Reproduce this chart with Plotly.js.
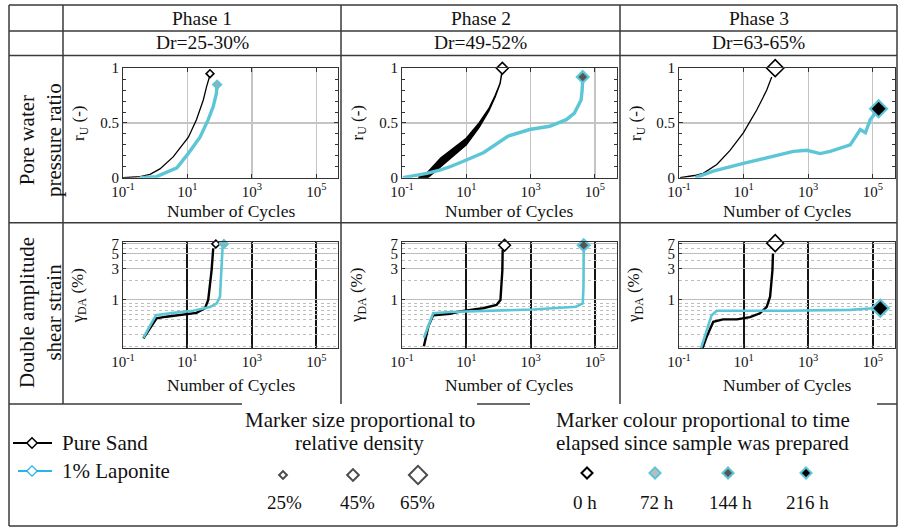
<!DOCTYPE html>
<html><head><meta charset="utf-8">
<script src="https://cdn.plot.ly/plotly-3.0.1.min.js"></script>
<style>html,body{margin:0;padding:0;background:#fff}</style>
</head><body>
<div id="chart" style="width:900px;height:527px"></div>
<script>
// ---------------- DATA ----------------
const phaseTitles = ['Phase 1', 'Phase 2', 'Phase 3'];
const densityTitles = ['Dr=25-30%', 'Dr=49-52%', 'Dr=63-65%'];
const rowTitles = ['Pore water<br>pressure ratio', 'Double amplitude<br>shear strain'];
const xTickVals = [0.1, 10, 1000, 100000];
const xTickText = ['10<sup>-1</sup>', '10<sup>1</sup>', '10<sup>3</sup>', '10<sup>5</sup>'];
const ruTickVals = [0, 0.5, 1];
const ruTickText = ['0', '0.5', '1'];
const gamTickVals = [1, 3, 5, 7];
const gamTickText = ['1', '3', '5', '7'];
const gamMinorVals = [0.2, 0.3, 0.4, 0.5, 0.6, 0.7, 0.8, 0.9, 2, 4, 6];

// Pore water pressure ratio r_U vs number of cycles
const ph1RuSandN = [0.1, 0.34, 0.69, 1.4, 3.6, 10.7, 19, 31, 39, 48];
const ph1RuSand  = [0, 0.01, 0.03, 0.08, 0.19, 0.37, 0.53, 0.71, 0.83, 0.92];
const ph1RuLapN  = [0.34, 1.1, 4.7, 10.5, 24.5, 44, 63, 79, 83];
const ph1RuLap   = [0, 0.01, 0.09, 0.22, 0.37, 0.53, 0.65, 0.77, 0.85];

const ph2RuSandN  = [0.32, 0.63, 1.6, 4.0, 10, 25, 50, 79, 112, 126];
const ph2RuSandHi = [0.0, 0.05, 0.18, 0.27, 0.36, 0.50, 0.63, 0.75, 0.86, 0.95];
const ph2RuSandLo = [0.0, 0.0, 0.10, 0.20, 0.30, 0.46, 0.61, 0.74, 0.86, 0.95];
const ph2RuLapN   = [0.107, 0.59, 1.5, 3.1, 8.9, 35, 200, 930, 3900, 12900, 22900, 37000, 40000, 41700];
const ph2RuLap    = [0, 0.04, 0.07, 0.10, 0.155, 0.23, 0.38, 0.44, 0.47, 0.53, 0.59, 0.71, 0.80, 0.90];

const ph3RuSandN = [0.107, 0.3, 0.56, 1.48, 3.8, 9.8, 25.7, 52, 74];
const ph3RuSand  = [0, 0.02, 0.04, 0.12, 0.25, 0.41, 0.62, 0.80, 0.92];
const ph3RuLapN  = [0.32, 1.15, 9.8, 66, 347, 912, 2340, 4790, 20000, 40700, 58900, 83000, 120000];
const ph3RuLap   = [0, 0.06, 0.13, 0.19, 0.24, 0.25, 0.22, 0.24, 0.30, 0.44, 0.41, 0.53, 0.59];

const ruEndSandN = [50, 132, 95];
const ruEndSand  = [0.95, 1.0, 1.0];
const ruEndLapN  = [83, 41700, 151000];
const ruEndLap   = [0.85, 0.92, 0.63];

// Double amplitude shear strain gamma_DA (%) vs number of cycles
const ph1GamSandN = [0.43, 1.1, 2.2, 9.3, 19, 35, 44, 56, 63];
const ph1GamSand  = [0.264, 0.53, 0.56, 0.61, 0.64, 0.75, 1.0, 2.8, 6.0];
const ph1GamLapN  = [0.43, 1.05, 3.6, 15, 50, 81, 102, 115, 123];
const ph1GamLap   = [0.27, 0.59, 0.64, 0.69, 0.78, 0.89, 1.12, 2.8, 6.4];

const ph2GamSandN = [0.48, 0.66, 0.93, 3.1, 6.3, 33, 87, 115, 132, 135];
const ph2GamSand  = [0.2, 0.4, 0.59, 0.62, 0.67, 0.75, 0.84, 1.0, 2.8, 5.7];
const ph2GamLapN  = [0.48, 0.93, 3.1, 33, 1170, 25700, 41700, 44000, 44700];
const ph2GamLap   = [0.27, 0.63, 0.66, 0.69, 0.72, 0.79, 0.89, 1.59, 5.7];

const ph3GamSandN = [0.5, 0.72, 1.15, 2.3, 6.2, 15.8, 32, 52, 66, 78, 81];
const ph3GamSand  = [0.17, 0.28, 0.47, 0.51, 0.51, 0.55, 0.63, 0.79, 1.12, 2.8, 5.0];
const ph3GamLapN  = [0.45, 1.02, 1.48, 170, 20000, 105000];
const ph3GamLap   = [0.17, 0.59, 0.69, 0.69, 0.71, 0.75];

const gamEndSandN = [76, 155, 95];
const gamEndSand  = [7.0, 6.7, 7.2];
const gamEndLapN  = [135, 44700, 170000];
const gamEndLap   = [7.0, 6.7, 0.75];

// Legend content
const seriesNames = ['Pure Sand', '1% Laponite'];
const densityLabels = ['25%', '45%', '65%'];
const timeLabels = ['0 h', '72 h', '144 h', '216 h'];

// ---------------- STYLE ----------------
const serif = 'Liberation Serif, Times New Roman, Times, serif';
const cyan = '#5cc6d6';
const legendBlue = '#2ab3e6';
const frame = '#333';
const lapFill = ['#a8a8a8', '#555555', '#000000'];
const markerSize = [6, 9, 13];
const timeFill = ['#ffffff', '#bdbdbd', '#555555', '#000000'];
const timeLine = ['#000000', cyan, cyan, cyan];

const W = 900, H = 527;
const xDom = [[123/W, 338/W], [402/W, 616.5/W], [679/W, 894.5/W]];
const topDom = [1 - 177.7/H, 1 - 68.2/H];
const botDom = [1 - 348/H, 1 - 241.7/H];

function xAx(dom, anchor, bottom) {
  return {
    type: 'log', range: [-1, 5.67], domain: dom, anchor: anchor,
    tickmode: 'array', tickvals: xTickVals, ticktext: xTickText,
    showgrid: false, zeroline: false,
    minor: {tickmode: 'array', tickvals: [10, 1000, 100000], showgrid: true,
            gridcolor: bottom ? '#151515' : '#c4c4c4', gridwidth: bottom ? 2 : 1.3, ticks: ''},
    ticks: 'inside', ticklen: 4, tickcolor: frame, tickwidth: 1,
    showline: true, linecolor: frame, linewidth: 1, mirror: 'allticks',
    tickfont: {family: serif, size: 15, color: '#111'}, fixedrange: true
  };
}
function yTop(anchor) {
  return {
    range: [0, 1], domain: topDom, anchor: anchor,
    tickmode: 'array', tickvals: ruTickVals, ticktext: ruTickText,
    showgrid: true, gridcolor: '#c4c4c4', gridwidth: 1.3, zeroline: false,
    minor: {tickmode: 'linear', tick0: 0, dtick: 0.1, ticks: 'inside', ticklen: 3, tickcolor: frame, showgrid: false},
    ticks: 'inside', ticklen: 4, tickcolor: frame,
    showline: true, linecolor: frame, linewidth: 1, mirror: 'allticks',
    tickfont: {family: serif, size: 15, color: '#111'}, fixedrange: true
  };
}
function yBot(anchor) {
  return {
    type: 'log', range: [-0.724, 0.879], domain: botDom, anchor: anchor,
    tickmode: 'array', tickvals: gamTickVals, ticktext: gamTickText,
    showgrid: true, gridcolor: '#bdbdbd', gridwidth: 1, zeroline: false,
    minor: {tickmode: 'array', tickvals: gamMinorVals, showgrid: true, griddash: 'dot', gridcolor: '#bdbdbd', gridwidth: 1, ticks: ''},
    ticks: 'inside', ticklen: 3, tickcolor: frame,
    showline: true, linecolor: frame, linewidth: 1, mirror: true,
    tickfont: {family: serif, size: 15, color: '#111'}, fixedrange: true
  };
}

const ruSand = [[ph1RuSandN, ph1RuSand], null, [ph3RuSandN, ph3RuSand]];
const ruLap = [[ph1RuLapN, ph1RuLap], [ph2RuLapN, ph2RuLap], [ph3RuLapN, ph3RuLap]];
const gamSand = [[ph1GamSandN, ph1GamSand], [ph2GamSandN, ph2GamSand], [ph3GamSandN, ph3GamSand]];
const gamLap = [[ph1GamLapN, ph1GamLap], [ph2GamLapN, ph2GamLap], [ph3GamLapN, ph3GamLap]];

const data = [];
for (let i = 0; i < 3; i++) {
  const xt = i === 0 ? 'x' : 'x' + (i + 1), yt = i === 0 ? 'y' : 'y' + (i + 1);
  const xb = 'x' + (i + 4), yb = 'y' + (i + 4);
  if (ruSand[i]) {
    data.push({type: 'scatter', mode: 'lines', x: ruSand[i][0], y: ruSand[i][1], xaxis: xt, yaxis: yt,
      line: {color: '#000', width: 1.3}, showlegend: false, hoverinfo: 'skip'});
  } else {
    const bx = ph2RuSandN.concat(ph2RuSandN.slice().reverse());
    const by = ph2RuSandHi.concat(ph2RuSandLo.slice().reverse());
    data.push({type: 'scatter', mode: 'lines', x: bx, y: by, fill: 'toself', fillcolor: '#000', xaxis: xt, yaxis: yt,
      line: {color: '#000', width: 1.5}, showlegend: false, hoverinfo: 'skip'});
  }
  data.push({type: 'scatter', mode: 'lines', x: ruLap[i][0], y: ruLap[i][1], xaxis: xt, yaxis: yt,
    line: {color: cyan, width: 3.4}, showlegend: false, hoverinfo: 'skip'});
  data.push({type: 'scatter', mode: 'markers', x: [ruEndSandN[i]], y: [ruEndSand[i]], xaxis: xt, yaxis: yt, cliponaxis: false,
    marker: {symbol: 'diamond', size: markerSize[i], color: '#fff', line: {color: '#000', width: 1.6}}, showlegend: false, hoverinfo: 'skip'});
  data.push({type: 'scatter', mode: 'markers', x: [ruEndLapN[i]], y: [ruEndLap[i]], xaxis: xt, yaxis: yt, cliponaxis: false,
    marker: {symbol: 'diamond', size: markerSize[i], color: lapFill[i], line: {color: cyan, width: 2.2}}, showlegend: false, hoverinfo: 'skip'});
  data.push({type: 'scatter', mode: 'lines', x: gamSand[i][0], y: gamSand[i][1], xaxis: xb, yaxis: yb,
    line: {color: '#000', width: 2.4}, showlegend: false, hoverinfo: 'skip'});
  data.push({type: 'scatter', mode: 'lines', x: gamLap[i][0], y: gamLap[i][1], xaxis: xb, yaxis: yb,
    line: {color: cyan, width: 2.6}, showlegend: false, hoverinfo: 'skip'});
  data.push({type: 'scatter', mode: 'markers', x: [gamEndSandN[i]], y: [gamEndSand[i]], xaxis: xb, yaxis: yb, cliponaxis: false,
    marker: {symbol: 'diamond', size: markerSize[i], color: '#fff', line: {color: '#000', width: 1.6}}, showlegend: false, hoverinfo: 'skip'});
  data.push({type: 'scatter', mode: 'markers', x: [gamEndLapN[i]], y: [gamEndLap[i]], xaxis: xb, yaxis: yb, cliponaxis: false,
    marker: {symbol: 'diamond', size: markerSize[i], color: lapFill[i], line: {color: cyan, width: 2.2}}, showlegend: false, hoverinfo: 'skip'});
}

// Legend glyphs on a full-figure pixel axis (x7/y7)
const lg = {xaxis: 'x7', yaxis: 'y7', showlegend: false, hoverinfo: 'skip', cliponaxis: false, type: 'scatter'};
data.push(Object.assign({}, lg, {mode: 'lines', x: [13, 52], y: [443, 443], line: {color: '#000', width: 2}}));
data.push(Object.assign({}, lg, {mode: 'markers', x: [32], y: [443], marker: {symbol: 'diamond', size: 8, color: '#fff', line: {color: '#000', width: 1.6}}}));
data.push(Object.assign({}, lg, {mode: 'lines', x: [18, 52], y: [471, 471], line: {color: legendBlue, width: 2}}));
data.push(Object.assign({}, lg, {mode: 'markers', x: [32], y: [471], marker: {symbol: 'diamond', size: 8, color: '#fff', line: {color: legendBlue, width: 1.3}}}));
data.push(Object.assign({}, lg, {mode: 'markers', x: [283, 353, 418], y: [475, 475, 475],
  marker: {symbol: 'diamond', size: [6, 9, 14], color: '#fff', line: {color: '#000', width: 2}}}));
data.push(Object.assign({}, lg, {mode: 'markers', x: [587, 655, 728, 806], y: [473, 473, 473, 473],
  marker: {symbol: 'diamond', size: 8.5, color: timeFill, line: {color: timeLine, width: 2}}}));

// ---------------- TABLE, TEXT ----------------
const shapes = [];
function L(x0, y0, x1, y1) {
  shapes.push({type: 'line', xref: 'paper', yref: 'paper', x0: x0/W, x1: x1/W, y0: 1 - y0/H, y1: 1 - y1/H,
    line: {color: '#3a3a3a', width: 1.5}});
}
[5, 31, 55.5, 222.7, 526].forEach(y => L(9, y, 897, y));
L(9, 404, 242, 404); L(477, 404, 530, 404); L(877, 404, 897, 404);
L(9, 5, 9, 526); L(897, 5, 897, 526);
[63, 341, 620].forEach(x => L(x, 5, x, 404));

const annotations = [];
function T(text, x, y, size, opts) {
  annotations.push(Object.assign({text: text, x: x/W, y: 1 - y/H, xref: 'paper', yref: 'paper', showarrow: false,
    xanchor: 'center', yanchor: 'middle', font: {family: serif, size: size, color: '#111'}}, opts || {}));
}
const colCenters = [202, 480.5, 758.5];
const panelCenters = [230.5, 509, 786.5];
for (let i = 0; i < 3; i++) {
  T(phaseTitles[i], colCenters[i], 18, 19.5);
  T(densityTitles[i], colCenters[i], 43, 19.5);
  T('Number of Cycles', panelCenters[i], 211, 17.5);
  T('Number of Cycles', panelCenters[i], 385, 17.5);
}
[80, 358.5, 637].forEach(x => T('r<sub>U</sub> (-)', x, 123, 17, {textangle: -90}));
[78.5, 358, 635].forEach(x => T('γ<sub>DA</sub> (%)', x, 296, 17, {textangle: -90}));
T(rowTitles[0], 40, 140, 21, {textangle: -90});
T(rowTitles[1], 40, 313, 21, {textangle: -90});
T(seriesNames[0], 60, 443, 21, {xanchor: 'left'});
T(seriesNames[1], 60, 471, 21, {xanchor: 'left'});
T('Marker size proportional to', 359.5, 420, 21);
T('relative density', 359.5, 443, 21);
T('Marker colour proportional to time', 702.5, 420, 21);
T('elapsed since sample was prepared', 702.5, 443, 21);
[284, 357, 417].forEach((x, k) => T(densityLabels[k], x, 502, 19));
[585, 657, 730, 807].forEach((x, k) => T(timeLabels[k], x, 502, 19));

const layout = {
  width: W, height: H, margin: {l: 0, r: 0, t: 0, b: 0},
  paper_bgcolor: '#fff', plot_bgcolor: 'rgba(0,0,0,0)', showlegend: false,
  font: {family: serif, color: '#111'},
  xaxis: xAx(xDom[0], 'y', false), yaxis: yTop('x'),
  xaxis2: xAx(xDom[1], 'y2', false), yaxis2: yTop('x2'),
  xaxis3: xAx(xDom[2], 'y3', false), yaxis3: yTop('x3'),
  xaxis4: xAx(xDom[0], 'y4', true), yaxis4: yBot('x4'),
  xaxis5: xAx(xDom[1], 'y5', true), yaxis5: yBot('x5'),
  xaxis6: xAx(xDom[2], 'y6', true), yaxis6: yBot('x6'),
  xaxis7: {domain: [0, 1], range: [0, W], visible: false, anchor: 'y7', fixedrange: true},
  yaxis7: {domain: [0, 1], range: [H, 0], visible: false, anchor: 'x7', fixedrange: true},
  shapes: shapes, annotations: annotations
};
Plotly.newPlot('chart', data, layout, {staticPlot: true, displayModeBar: false});
</script>
</body></html>
